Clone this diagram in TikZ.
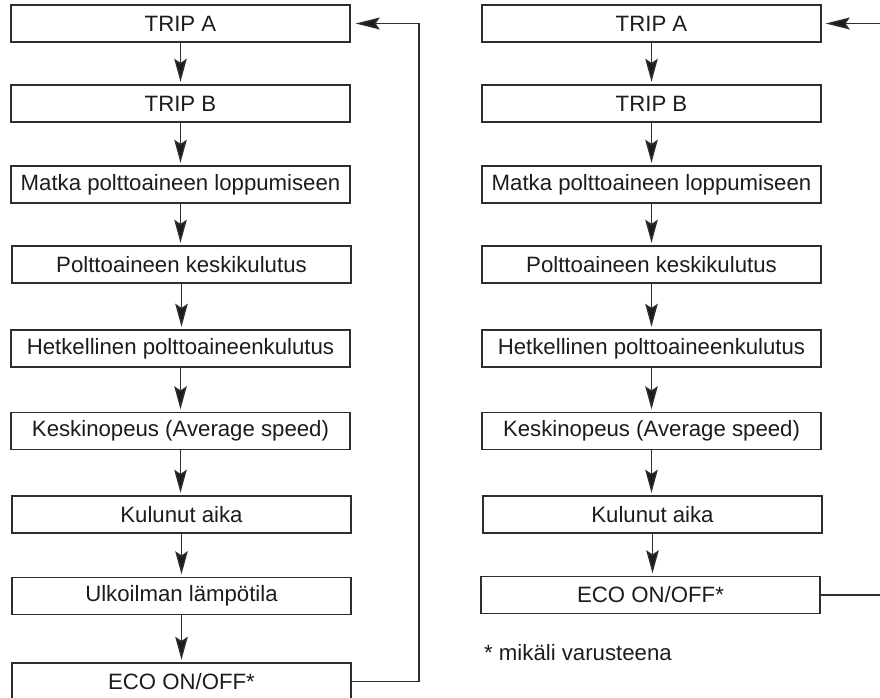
\documentclass[tikz,border=0pt]{standalone}
\usepackage{fontspec}
\setmainfont{Liberation Sans}
\usetikzlibrary{arrows.meta}
\definecolor{ink}{HTML}{1E1B1C}
\definecolor{linec}{HTML}{2E2E2E}
\begin{document}
\begin{tikzpicture}[x=1pt,y=-1pt,
  box/.style={draw=linec,line width=1.4pt,minimum width=339pt,minimum height=37pt,inner sep=0pt,text=ink,font=\fontsize{22.2}{24}\selectfont},
  flow/.style={draw=linec,line width=1.4pt,-{Stealth[length=23pt,width=12.5pt,inset=4pt,fill=ink]},shorten >=2.5pt},
  ret/.style={draw=linec,line width=1.4pt}]
\useasboundingbox (0,0) rectangle (880,697);
% left column
\node[box] (a1) at (180.5,23.5) {TRIP A};
\node[box] (a2) at (180.5,103.5) {TRIP B};
\node[box] (a3) at (180.5,184.5) {Matka polttoaineen loppumiseen};
\node[box] (a4) at (181.5,264.5) {Polttoaineen keskikulutus};
\node[box] (a5) at (180.5,348.5) {Hetkellinen polttoaineenkulutus};
\node[box] (a6) at (180.5,431) {Keskinopeus (Average speed)};
\node[box] (a7) at (181.5,514.5) {Kulunut aika};
\node[box] (a8) at (181.5,596) {Ulkoilman lämpötila};
\node[box] (a9) at (181.5,681.5) {ECO ON/OFF*};
\foreach \i/\j in {a1/a2,a2/a3,a3/a4,a4/a5,a5/a6,a6/a7,a7/a8,a8/a9}
  \draw[flow] (\i.south) -- (\i.south |- \j.north);
\coordinate (lr) at (419,0);
\draw[ret,-{Stealth[length=24pt,width=12pt,inset=4pt,fill=ink]},shorten >=5pt] (a9.east) -| (lr |- a9.east) |- (a1.east);
% right column
\node[box] (b1) at (651.5,23.5) {TRIP A};
\node[box] (b2) at (651.5,103.5) {TRIP B};
\node[box] (b3) at (651.5,184.5) {Matka polttoaineen loppumiseen};
\node[box] (b4) at (651.5,264.5) {Polttoaineen keskikulutus};
\node[box] (b5) at (651.5,348.5) {Hetkellinen polttoaineenkulutus};
\node[box] (b6) at (651.5,431) {Keskinopeus (Average speed)};
\node[box] (b7) at (652.5,514.5) {Kulunut aika};
\node[box] (b8) at (650.5,595) {ECO ON/OFF*};
\foreach \i/\j in {b1/b2,b2/b3,b3/b4,b4/b5,b5/b6,b6/b7,b7/b8}
  \draw[flow] (\i.south) -- (\i.south |- \j.north);
\coordinate (rin) at (880,23.5);
\coordinate (rout) at (880,595);
\draw[ret,-{Stealth[length=24pt,width=12pt,inset=4pt,fill=ink]},shorten >=4pt] (rin) -- (b1.east);
\draw[ret] (b8.east) -- (rout);
\node[anchor=base west,inner sep=0pt,text=ink,font=\fontsize{22.2}{24}\selectfont] (fn) at (484,660) {* mikäli varusteena};
\end{tikzpicture}
\end{document}
